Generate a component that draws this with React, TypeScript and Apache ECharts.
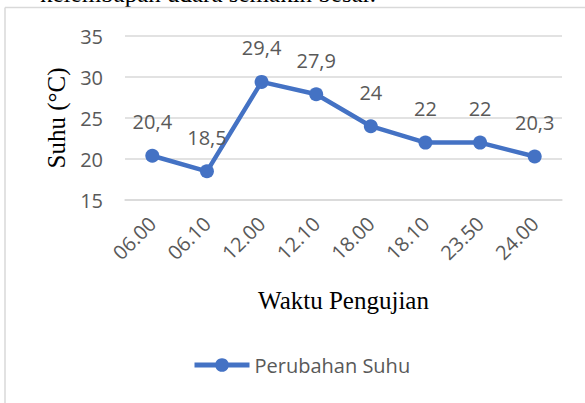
import React, { useEffect, useRef } from "react";
import * as echarts from "echarts";

const categories = ["06.00", "06.10", "12.00", "12.10", "18.00", "18.10", "23.50", "24.00"];
const suhuValues = [20.4, 18.5, 29.4, 27.9, 24, 22, 22, 20.3];
const seriesName = "Perubahan Suhu";
const yAxisTitle = "Suhu (°C)";
const xAxisTitle = "Waktu Pengujian";
const topCaption = "kelembapan udara semakin besar.";

const GREY = "#595959";
const GRID = "#d9d9d9";
const BLUE = "#4472C4";
const SANS = "'Open Sans', Calibri, sans-serif";
const SERIF = "'Liberation Serif', 'Times New Roman', serif";

export default function App() {
  const ref = useRef<HTMLDivElement>(null);
  useEffect(() => {
    if (!ref.current) return;
    const chart = echarts.init(ref.current, null, { renderer: "svg" });
    chart.setOption({
      animation: false,
      backgroundColor: "#ffffff",
      graphic: [
        {
          type: "text",
          left: 40,
          top: -19,
          style: { text: topCaption, font: `25px ${SERIF}`, fill: "#000" },
        },
        {
          type: "line",
          shape: { x1: 5, y1: 7.5, x2: 585, y2: 7.5 },
          style: { stroke: GRID, lineWidth: 1.5 },
        },
        {
          type: "line",
          shape: { x1: 5, y1: 7.5, x2: 5, y2: 403 },
          style: { stroke: GRID, lineWidth: 1.5 },
        },
      ],
      grid: { left: 125, right: 23, top: 36, bottom: 203, containLabel: false },
      legend: {
        left: 192,
        top: 355,
        padding: 0,
        itemWidth: 55,
        itemHeight: 17,
        itemGap: 10,
        lineStyle: { width: 5 },
        textStyle: { color: GREY, fontSize: 20, fontFamily: SANS },
        data: [seriesName],
      },
      xAxis: {
        type: "category",
        data: categories,
        boundaryGap: true,
        axisLine: { show: true, lineStyle: { color: GRID, width: 1.5 } },
        axisTick: { show: false },
        axisLabel: { rotate: 45, margin: 20, color: GREY, fontSize: 20, fontFamily: SANS, interval: 0 },
        name: xAxisTitle,
        nameLocation: "middle",
        nameGap: 88,
        nameTextStyle: { color: "#000", fontSize: 25, fontFamily: SERIF },
      },
      yAxis: {
        type: "value",
        min: 15,
        max: 35,
        interval: 5,
        axisLine: { show: false },
        axisTick: { show: false },
        splitLine: { lineStyle: { color: GRID, width: 1.5 } },
        axisLabel: { margin: 22, color: GREY, fontSize: 20, fontFamily: SANS },
        name: yAxisTitle,
        nameLocation: "middle",
        nameRotate: 90,
        nameGap: 54,
        nameTextStyle: { color: "#000", fontSize: 25, fontFamily: SERIF },
      },
      series: [
        {
          name: seriesName,
          type: "line",
          data: suhuValues,
          symbol: "circle",
          symbolSize: 14,
          lineStyle: { color: BLUE, width: 4.5 },
          itemStyle: { color: BLUE },
          label: {
            show: true,
            position: "top",
            distance: 17,
            color: GREY,
            fontSize: 20,
            fontFamily: SANS,
            formatter: (p: any) => String(p.value).replace(".", ","),
          },
        },
      ],
    });
    return () => chart.dispose();
  }, []);
  return <div ref={ref} style={{ width: 585, height: 403, position: "absolute", left: 0, top: 0 }} />;
}
